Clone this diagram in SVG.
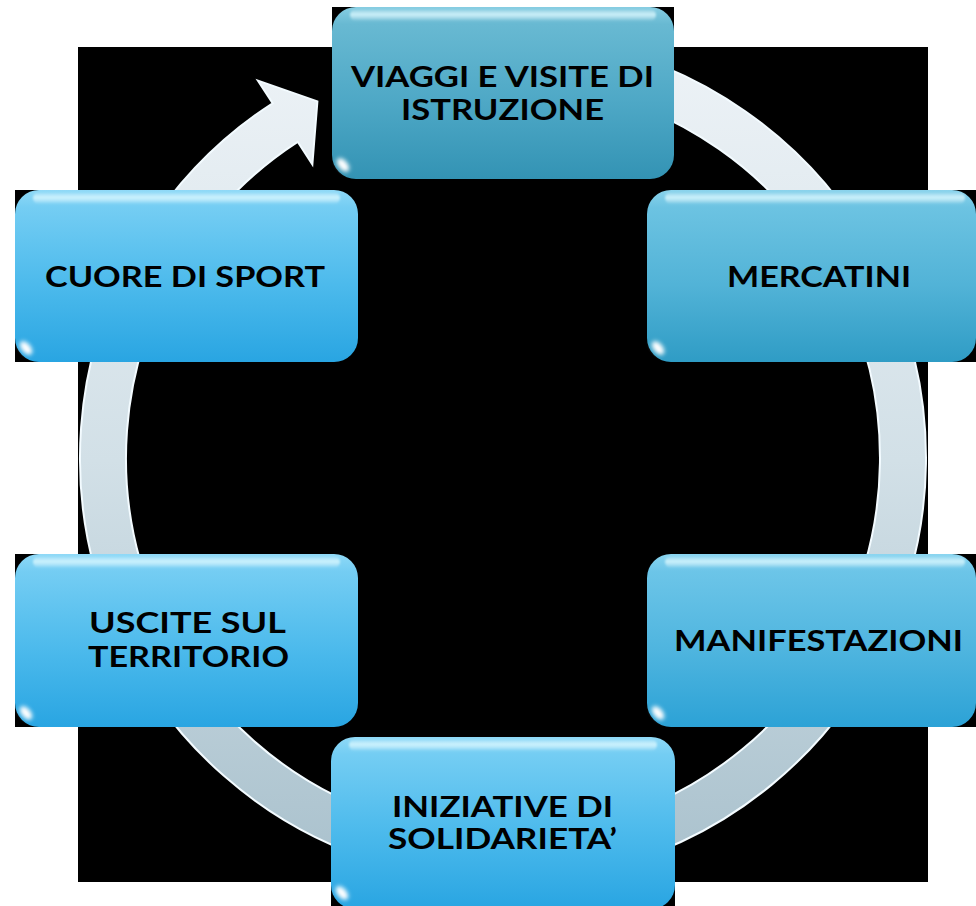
<svg xmlns="http://www.w3.org/2000/svg" width="976" height="906" viewBox="0 0 976 906">
  <defs>
    <linearGradient id="ringGrad" gradientUnits="userSpaceOnUse" x1="0" y1="35" x2="0" y2="885">
      <stop offset="0" stop-color="#eef3f7"/>
      <stop offset="0.5" stop-color="#d2e0e7"/>
      <stop offset="1" stop-color="#a8c0cc"/>
    </linearGradient>
    <linearGradient id="gBright" x1="0" y1="0" x2="0" y2="1">
      <stop offset="0" stop-color="#8fd9f7"/>
      <stop offset="0.1" stop-color="#74cdf3"/>
      <stop offset="0.55" stop-color="#4cbaec"/>
      <stop offset="1" stop-color="#29a5e2"/>
    </linearGradient>
    <linearGradient id="gTeal" x1="0" y1="0" x2="0" y2="1">
      <stop offset="0" stop-color="#86cde2"/>
      <stop offset="0.1" stop-color="#68b9d2"/>
      <stop offset="0.55" stop-color="#4ea8c6"/>
      <stop offset="1" stop-color="#3393b4"/>
    </linearGradient>
    <linearGradient id="gTeal2" x1="0" y1="0" x2="0" y2="1">
      <stop offset="0" stop-color="#8ad3ec"/>
      <stop offset="0.1" stop-color="#6cc3e2"/>
      <stop offset="0.55" stop-color="#52b3d7"/>
      <stop offset="1" stop-color="#2f9cc5"/>
    </linearGradient>
    <linearGradient id="gTeal3" x1="0" y1="0" x2="0" y2="1">
      <stop offset="0" stop-color="#8ad5f0"/>
      <stop offset="0.1" stop-color="#6cc5e8"/>
      <stop offset="0.55" stop-color="#4fb5df"/>
      <stop offset="1" stop-color="#2ca2d6"/>
    </linearGradient>
    <linearGradient id="topShine" x1="0" y1="0" x2="0" y2="1">
      <stop offset="0" stop-color="#ffffff" stop-opacity="0"/>
      <stop offset="0.45" stop-color="#d8f8ff" stop-opacity="0.85"/>
      <stop offset="1" stop-color="#ffffff" stop-opacity="0"/>
    </linearGradient>
    <filter id="soft" x="-50%" y="-50%" width="200%" height="200%">
      <feGaussianBlur stdDeviation="2"/>
    </filter>
    <filter id="soft1" x="-20%" y="-20%" width="140%" height="140%">
      <feGaussianBlur stdDeviation="1"/>
    </filter>
  </defs>
  <style>
    .bg { fill: #000000; }
    .lbl { font-family: Lato, "Open Sans", "Liberation Sans", sans-serif; font-weight: bold; font-size: 29px; fill: #000000; text-anchor: middle; }
    .shine { fill: url(#topShine); filter: url(#soft1); }
    .glint { fill: #ffffff; filter: url(#soft); }
    .edge { fill: none; stroke: #c8f2ff; stroke-width: 2; opacity: 0.6; filter: url(#soft1); }
  </style>

  <rect x="0" y="0" width="976" height="906" fill="#ffffff"/>
  <rect class="bg" x="78" y="47" width="850" height="835"/>

  <g id="connectors">
    <path d="M 576.45 41.43 A 423 423 0 1 1 272.62 103.24 L 257.91 80.60 L 317.4 101.4 L 312.38 164.47 L 297.67 141.82 A 377 377 0 1 0 568.47 86.73 Z" fill="url(#ringGrad)" stroke="#f3fbff" stroke-width="2"/>
  </g>

  <g id="node-viaggi">
    <rect class="bg" x="332" y="7" width="342" height="172"/>
    <rect x="332" y="7" width="342" height="172" rx="24" fill="url(#gTeal)"/>
    <rect class="shine" x="350" y="9" width="306" height="12" rx="6"/>
    <path class="edge" d="M 670 30 L 670 160"/>
    <ellipse class="glint" cx="343" cy="165" rx="8" ry="4.5" transform="rotate(50 343 165)"/>
    <text class="lbl" x="502.5" y="87" textLength="303" lengthAdjust="spacingAndGlyphs">VIAGGI E VISITE DI</text>
    <text class="lbl" x="502.5" y="120" textLength="203" lengthAdjust="spacingAndGlyphs">ISTRUZIONE</text>
  </g>

  <g id="node-mercatini">
    <rect class="bg" x="647" y="190" width="329" height="172"/>
    <rect x="647" y="190" width="329" height="172" rx="24" fill="url(#gTeal2)"/>
    <rect class="shine" x="665" y="192" width="300" height="12" rx="6"/>
    <ellipse class="glint" cx="658" cy="348" rx="8" ry="4.5" transform="rotate(50 658 348)"/>
    <text class="lbl" x="819" y="287" textLength="184" lengthAdjust="spacingAndGlyphs">MERCATINI</text>
  </g>

  <g id="node-cuore">
    <rect class="bg" x="15" y="190" width="343" height="172"/>
    <rect x="15" y="190" width="343" height="172" rx="24" fill="url(#gBright)"/>
    <rect class="shine" x="33" y="192" width="307" height="12" rx="6"/>
    <path class="edge" d="M 354 213 L 354 343"/>
    <ellipse class="glint" cx="26" cy="348" rx="8" ry="4.5" transform="rotate(50 26 348)"/>
    <text class="lbl" x="185" y="287" textLength="280" lengthAdjust="spacingAndGlyphs">CUORE DI SPORT</text>
  </g>

  <g id="node-uscite">
    <rect class="bg" x="15" y="554" width="343" height="173"/>
    <rect x="15" y="554" width="343" height="173" rx="24" fill="url(#gBright)"/>
    <rect class="shine" x="33" y="556" width="307" height="12" rx="6"/>
    <path class="edge" d="M 354 577 L 354 707"/>
    <ellipse class="glint" cx="26" cy="713" rx="8" ry="4.5" transform="rotate(50 26 713)"/>
    <text class="lbl" x="187.5" y="633" textLength="197" lengthAdjust="spacingAndGlyphs">USCITE SUL</text>
    <text class="lbl" x="188.5" y="667" textLength="201" lengthAdjust="spacingAndGlyphs">TERRITORIO</text>
  </g>

  <g id="node-manifestazioni">
    <rect class="bg" x="647" y="554" width="329" height="173"/>
    <rect x="647" y="554" width="329" height="173" rx="24" fill="url(#gTeal3)"/>
    <rect class="shine" x="665" y="556" width="300" height="12" rx="6"/>
    <ellipse class="glint" cx="658" cy="713" rx="8" ry="4.5" transform="rotate(50 658 713)"/>
    <text class="lbl" x="818.5" y="651" textLength="289" lengthAdjust="spacingAndGlyphs">MANIFESTAZIONI</text>
  </g>

  <g id="node-iniziative">
    <rect class="bg" x="331" y="737" width="344" height="172"/>
    <rect x="331" y="737" width="344" height="172" rx="24" fill="url(#gBright)"/>
    <rect class="shine" x="349" y="739" width="308" height="12" rx="6"/>
    <path class="edge" d="M 671 760 L 671 890"/>
    <ellipse class="glint" cx="342" cy="893" rx="8" ry="4.5" transform="rotate(50 342 893)"/>
    <text class="lbl" x="502.5" y="817" textLength="221" lengthAdjust="spacingAndGlyphs">INIZIATIVE DI</text>
    <text class="lbl" x="502.5" y="849" textLength="229" lengthAdjust="spacingAndGlyphs">SOLIDARIETA’</text>
  </g>
</svg>
